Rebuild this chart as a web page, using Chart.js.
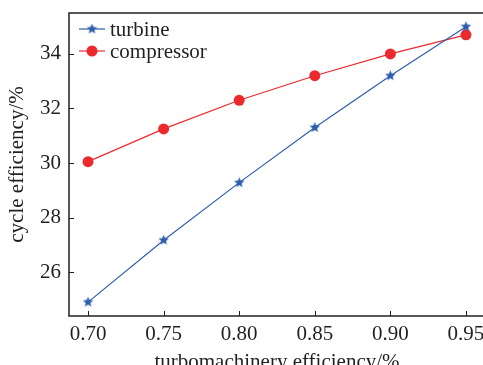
<!DOCTYPE html>
<html>
<head>
<meta charset="utf-8">
<script src="https://cdn.jsdelivr.net/npm/chart.js"></script>
<style>
html, body { margin: 0; padding: 0; overflow: hidden; background: #fff; }
#wrap { position: relative; width: 495px; height: 375px; }
</style>
</head>
<body>
<div id="wrap"><canvas id="myChart"></canvas></div>
<script>
// values
const efficiency = [0.70, 0.75, 0.80, 0.85, 0.90, 0.95]
const turbine = [24.9, 27.17, 29.28, 31.3, 33.2, 35.0]
const compressor = [30.05, 31.25, 32.3, 33.2, 34.0, 34.7]
const xTicks = [0.70, 0.75, 0.80, 0.85, 0.90, 0.95]
const yTicks = [26, 28, 30, 32, 34]

const BLUE = '#2d5dab'
const RED = '#ec2a2d'
const INK = '#231f20'
const FONT = 'Liberation Serif'

// little 5 point star for the turbine markers
function makeStar(size, color) {
  let c = document.createElement('canvas')
  c.width = size; c.height = size
  let g = c.getContext('2d')
  let cx = size / 2, cy = size / 2, R = size / 2, r = R * 0.45
  g.beginPath()
  for (let i = 0; i < 10; i++) {
    let rad = i % 2 ? r : R
    let a = -Math.PI / 2 + i * Math.PI / 5
    g.lineTo(cx + rad * Math.cos(a), cy + rad * Math.sin(a))
  }
  g.closePath()
  g.fillStyle = color
  g.fill()
  return c
}
const star = makeStar(11, BLUE)

// frame, inward ticks and the legend box
const framePlugin = {
  id: 'frame',
  afterDatasetsDraw(chart) {
    let ctx = chart.ctx
    let a = chart.chartArea
    let xs = chart.scales.x, ys = chart.scales.y
    ctx.save()
    ctx.strokeStyle = INK
    ctx.lineWidth = 1.5
    ctx.strokeRect(a.left, a.top, a.right - a.left, a.bottom - a.top)
    ctx.lineWidth = 1
    ctx.beginPath()
    xTicks.forEach(v => {
      let px = Math.round(xs.getPixelForValue(v)) + 0.5
      ctx.moveTo(px, a.bottom); ctx.lineTo(px, a.bottom - 5)
    })
    yTicks.forEach(v => {
      let py = Math.round(ys.getPixelForValue(v)) + 0.5
      ctx.moveTo(a.left, py); ctx.lineTo(a.left + 5, py)
    })
    ctx.stroke()

    // legend
    ctx.font = '21px "' + FONT + '"'
    ctx.textBaseline = 'middle'
    chart.data.datasets.forEach((ds, i) => {
      let y = 29 + i * 22
      ctx.strokeStyle = ds.borderColor
      ctx.lineWidth = 1.2
      ctx.beginPath(); ctx.moveTo(79, y); ctx.lineTo(105, y); ctx.stroke()
      if (i == 0) {
        ctx.drawImage(star, 92 - 5.5, y - 5.5)
      } else {
        ctx.fillStyle = RED
        ctx.beginPath(); ctx.arc(92, y, 5.5, 0, Math.PI * 2); ctx.fill()
      }
      ctx.fillStyle = INK
      ctx.fillText(ds.label, 110, y + 1)
    })
    ctx.restore()
  }
}

var ctx = document.getElementById('myChart').getContext('2d');
var chart = new Chart(ctx, {
  type: 'line',
  data: {
    datasets: [{
      label: 'turbine',
      data: efficiency.map((x, i) => ({x: x, y: turbine[i]})),
      borderColor: BLUE,
      backgroundColor: BLUE,
      borderWidth: 1.2,
      pointStyle: star,
      pointRadius: 5,
    }, {
      label: 'compressor',
      data: efficiency.map((x, i) => ({x: x, y: compressor[i]})),
      borderColor: RED,
      backgroundColor: RED,
      borderWidth: 1.2,
      pointStyle: 'circle',
      pointRadius: 5.5,
      pointBorderWidth: 0,
    }]
  },
  options: {
    responsive: true,
    maintainAspectRatio: false,
    animation: false,
    layout: { padding: { left: 0, top: 13, right: 10, bottom: 0 } },
    plugins: { legend: { display: false }, tooltip: { enabled: false } },
    scales: {
      x: {
        type: 'linear',
        min: 0.6874,
        max: 0.9626,
        grid: { display: false, drawTicks: false },
        border: { display: false },
        afterBuildTicks: s => { s.ticks = xTicks.map(v => ({value: v})) },
        afterFit: s => { s.height = 59; s.paddingLeft = 0; s.paddingRight = 0 },
        ticks: {
          padding: 6,
          color: INK,
          font: { family: FONT, size: 21 },
          callback: v => v.toFixed(2),
          maxRotation: 0,
        },
        title: {
          display: true,
          text: 'turbomachinery efficiency/%',
          color: INK,
          font: { family: FONT, size: 21 },
          padding: { top: 0, bottom: 0 },
        }
      },
      y: {
        min: 24.39,
        max: 35.5,
        grid: { display: false, drawTicks: false },
        border: { display: false },
        afterBuildTicks: s => { s.ticks = yTicks.map(v => ({value: v})) },
        afterFit: s => { s.width = 69; s.paddingTop = 0; s.paddingBottom = 0 },
        ticks: {
          padding: 8,
          color: INK,
          font: { family: FONT, size: 21 },
        },
        title: {
          display: true,
          text: 'cycle efficiency/%',
          color: INK,
          font: { family: FONT, size: 21 },
          padding: { top: 5, bottom: 0 },
        }
      }
    }
  },
  plugins: [framePlugin]
});
</script>
</body>
</html>
